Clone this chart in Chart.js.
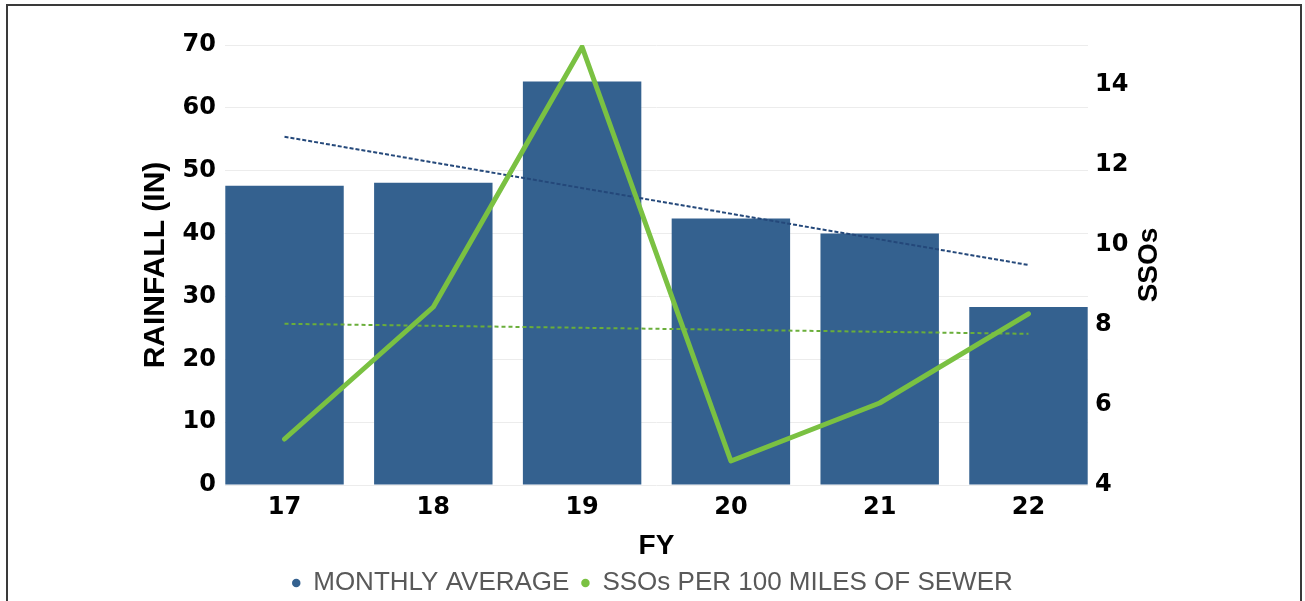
<!DOCTYPE html>
<html>
<head>
<meta charset="utf-8">
<script src="https://cdn.jsdelivr.net/npm/chart.js@4/dist/chart.umd.min.js"></script>
<style>
  html, body { margin: 0; padding: 0; background: #fff; overflow: hidden; }
  #wrap { position: relative; width: 1305px; height: 601px; }
  #frame { position: absolute; left: 6px; top: 4px; width: 1292px; height: 700px; border: 2px solid #3a3a3a; pointer-events: none; }
</style>
</head>
<body>
<div id="wrap">
  <canvas id="chart" width="1305" height="601"></canvas>
  <div id="frame"></div>
</div>
<script>
// Fiscal years on the x axis
const years = ['17', '18', '19', '20', '21', '22'];
// Rainfall in inches (left axis)
const rainfall = [47.6, 48.1, 64.2, 42.4, 40.0, 28.3];
// SSOs per 100 miles of sewer (right axis)
const ssos = [5.15, 8.45, 14.95, 4.6, 6.05, 8.28];
// Trend lines, read at the first and last year only
const rainfallTrend = [55.4, null, null, null, null, 35.0];
const ssoTrend = [8.03, null, null, null, null, 7.78];

const leftTicks = { min: 0, max: 70, step: 10 };
const rightTicks = { min: 4, max: 15, step: 2 };

const BLUE = '#34618f';
const GREEN = '#7ac142';

Chart.defaults.font.family = '"Liberation Sans", Arial, sans-serif';
Chart.defaults.color = '#000';

const tickFont = { family: '"DejaVu Sans", sans-serif', size: 24, weight: 'bold' };
const titleFont = { family: '"Liberation Sans", Arial, sans-serif', size: 28, weight: 'bold' };

// pair each year with its value, skipping gaps
function points(values) {
  return years
    .map((yr, i) => ({ x: Number(yr), y: values[i] }))
    .filter(p => p.y !== null);
}

// right axis title reads bottom-to-top like the left one
const rightTitle = {
  id: 'rightTitle',
  afterDraw(chart) {
    const { ctx, chartArea } = chart;
    ctx.save();
    ctx.translate(chartArea.right + 61, (chartArea.top + chartArea.bottom) / 2);
    ctx.rotate(-Math.PI / 2);
    ctx.font = 'bold 28px "Liberation Sans", Arial, sans-serif';
    ctx.fillStyle = '#000';
    ctx.textAlign = 'center';
    ctx.textBaseline = 'middle';
    ctx.fillText('SSOs', 0, 0);
    ctx.restore();
  }
};

new Chart(document.getElementById('chart'), {
  type: 'bar',
  data: {
    datasets: [
      {
        label: 'MONTHLY AVERAGE',
        data: points(rainfall),
        backgroundColor: BLUE,
        borderWidth: 0,
        yAxisID: 'y',
        barPercentage: 0.796,
        categoryPercentage: 1,
        order: 3
      },
      {
        type: 'line',
        label: 'SSOs PER 100 MILES OF SEWER',
        data: points(ssos),
        borderColor: GREEN,
        backgroundColor: GREEN,
        borderWidth: 5,
        borderCapStyle: 'round',
        borderJoinStyle: 'round',
        pointRadius: 0,
        tension: 0,
        yAxisID: 'y1',
        order: 0
      },
      {
        type: 'line',
        label: 'rain trend',
        data: points(rainfallTrend),
        borderColor: '#24487a',
        borderWidth: 2,
        borderDash: [4, 2],
        pointRadius: 0,
        yAxisID: 'y',
        order: 1
      },
      {
        type: 'line',
        label: 'sso trend',
        data: points(ssoTrend),
        borderColor: '#6aae3a',
        borderWidth: 2,
        borderDash: [4, 3],
        pointRadius: 0,
        yAxisID: 'y1',
        order: 2
      }
    ]
  },
  options: {
    responsive: false,
    animation: false,
    layout: { padding: { left: 0, right: 0, top: 45, bottom: -5 } },
    scales: {
      x: {
        type: 'linear',
        min: 16.6,
        max: 22.4,
        offset: false,
        afterBuildTicks(scale) {
          scale.ticks = years.map(yr => ({ value: Number(yr) }));
        },
        grid: { display: false },
        border: { display: false },
        ticks: { font: tickFont, padding: 0, color: '#000', callback: v => String(v) },
        title: { display: true, text: 'FY', font: titleFont, color: '#000', padding: { top: 0, bottom: -5 } },
        afterFit(scale) { scale.height = 73; }
      },
      y: {
        position: 'left',
        min: leftTicks.min,
        max: leftTicks.max,
        ticks: { stepSize: leftTicks.step, font: tickFont, padding: 9, color: '#000' },
        grid: { color: '#ececec', lineWidth: 1, drawTicks: false },
        border: { display: false },
        title: {
          display: true,
          text: 'RAINFALL (IN)',
          font: { family: '"Liberation Sans", Arial, sans-serif', size: 30, weight: 'bold' },
          color: '#000',
          padding: { top: 138, bottom: 0 }
        },
        afterFit(scale) { scale.width = 225; }
      },
      y1: {
        position: 'right',
        min: rightTicks.min,
        max: rightTicks.max,
        ticks: { stepSize: rightTicks.step, font: tickFont, padding: 7, color: '#000' },
        afterBuildTicks(scale) {
          scale.ticks = scale.ticks.filter(t => (t.value - rightTicks.min) % rightTicks.step === 0);
        },
        grid: { drawOnChartArea: false, drawTicks: false },
        border: { display: false },
        afterFit(scale) { scale.width = 217; }
      }
    },
    plugins: {
      tooltip: { enabled: false },
      legend: {
        position: 'bottom',
        labels: {
          usePointStyle: true,
          boxWidth: 8,
          boxHeight: 6,
          padding: 12,
          color: '#595959',
          font: { family: '"Liberation Sans", Arial, sans-serif', size: 26 },
          sort: (a, b) => a.datasetIndex - b.datasetIndex,
          generateLabels(chart) {
            const items = Chart.defaults.plugins.legend.labels.generateLabels(chart);
            return items
              .filter(item => item.datasetIndex < 2)
              .map(item => Object.assign(item, { lineWidth: 0, strokeStyle: item.fillStyle }));
          }
        }
      }
    }
  },
  plugins: [rightTitle]
});
</script>
</body>
</html>
